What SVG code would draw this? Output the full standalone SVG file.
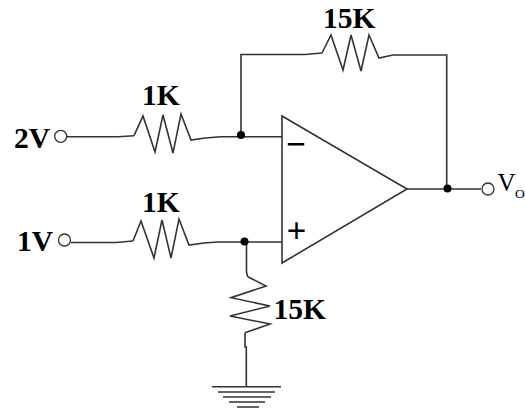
<svg xmlns="http://www.w3.org/2000/svg" width="525" height="409" viewBox="0 0 525 409">
<style>
.w{fill:none;stroke:#333;stroke-width:1.6;stroke-linejoin:miter}
.t{fill:#000;font-family:"Liberation Serif","Times New Roman",serif;font-weight:bold;font-size:29.5px}
.s{font-size:35px}
.v{fill:#000;font-family:"Liberation Serif","Times New Roman",serif}
.o{fill:#fff;stroke:#333;stroke-width:1.3}
.d{fill:#000}
</style>
<rect width="525" height="409" fill="#fff"/>
<g id="connectors">
<path class="w" d="M67 136.7H118L134 135.7"/>
<path class="w" d="M205 138L221 136.7H282"/>
<path class="w" d="M241 135V54.5H305L322 53"/>
<path class="w" d="M393 55H446.7V188"/>
<path class="w" d="M407 189H481"/>
<path class="w" d="M71 242.5H116L133 241"/>
<path class="w" d="M204 243L218 242H282"/>
<path class="w" d="M246.5 242V272L247.7 276.7"/>
<path class="w" d="M245 332.7V347H246.3V387"/>
</g>
<g id="r1"><path class="w" d="M134 135.7L143 116L155 152L163 115L173 153L181 114L191 140L205 138"/><text class="t" x="142" y="105">1K</text></g>
<g id="r2"><path class="w" d="M133 241L141 221L154 258L162 220L171 258L179 219L189 245L204 243"/><text class="t" x="142" y="212">1K</text></g>
<g id="rf"><path class="w" d="M322 53L331 35L343 70L351 35L361 71L369 35L379 58L393 55"/><text class="t" x="323" y="28">15K</text></g>
<g id="rg"><path class="w" d="M247.7 276.7L266 286L231 297.7L270 306L230 316L270 324L245 332.7"/><text class="t" x="273.5" y="319">15K</text></g>
<g id="opamp"><path d="M282 116L407 189L282 263Z" fill="#fff" stroke="#333" stroke-width="1.6"/><text class="t s" x="286" y="156">−</text><text class="t s" x="286.5" y="243">+</text></g>
<g id="in2"><circle class="o" cx="60.7" cy="136.3" r="6"/><text class="t" x="14" y="148">2V</text></g>
<g id="in1"><circle class="o" cx="64.5" cy="240" r="6"/><text class="t" x="17" y="251">1V</text></g>
<g id="out"><circle class="o" cx="488" cy="189" r="6"/><text class="v" x="497.5" y="191" font-size="25">V</text><text class="v" x="515" y="198" font-size="13.5">O</text></g>
<g id="dots"><circle class="d" cx="241" cy="135" r="4"/><circle class="d" cx="244.5" cy="241.5" r="4"/><circle class="d" cx="447.5" cy="188.5" r="4"/></g>
<g id="ground"><path class="w" d="M212 386.7H281M218 392H275M223 397H271M229 402H265M237 407H259"/></g>
</svg>
